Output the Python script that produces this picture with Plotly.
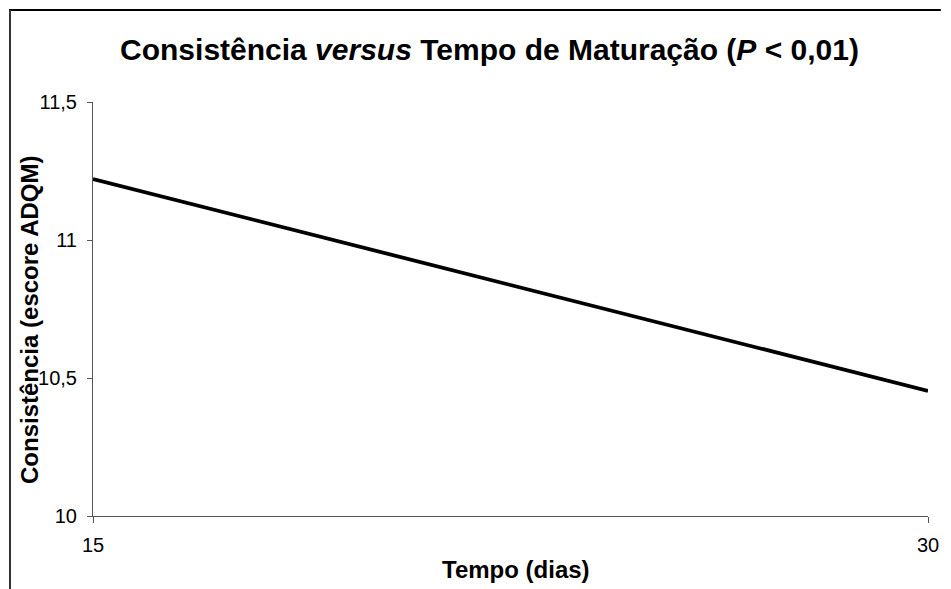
import plotly.graph_objects as go

# Data
tempo_dias = [15, 30]
consistencia = [11.221, 10.453]
y_ticks = [10, 10.5, 11, 11.5]
x_ticks = [15, 30]

FONT = "Liberation Sans, Arial, sans-serif"
AXIS_COLOR = "#555555"

# page has an 8px body margin, so the figure is a bit smaller than the window
W, H = 943, 581
ML, MR, MT, MB = 85, 13, 94, 73
PW, PH = W - ML - MR, H - MT - MB

fig = go.Figure()

fig.add_trace(go.Scatter(
    x=tempo_dias,
    y=consistencia,
    mode='lines',
    line=dict(color='black', width=3.8),
    showlegend=False,
    hoverinfo='skip'
))

fig.update_layout(
    width=W,
    height=H,
    paper_bgcolor='white',
    plot_bgcolor='white',
    separators=', ',
    margin=dict(l=ML, r=MR, t=MT, b=MB),
    font=dict(family=FONT, color='black', size=20),
    title=dict(
        text='<b>Consistência <i>versus</i> Tempo de Maturação (<i>P</i> < 0,01)</b>',
        x=0.5 + 10 / W, xanchor='center',
        y=1 - 41 / H, yanchor='middle',
        font=dict(family=FONT, size=30, color='black')
    ),
    xaxis=dict(
        range=[15, 30],
        tickvals=x_ticks,
        ticks='outside', ticklen=6, tickcolor=AXIS_COLOR,
        showline=True, linecolor=AXIS_COLOR, linewidth=1,
        showgrid=False, zeroline=False,
        tickfont=dict(size=20),
        ticklabelstandoff=5,
    ),
    yaxis=dict(
        range=[10, 11.5],
        tickvals=y_ticks,
        ticks='outside', ticklen=5, tickcolor=AXIS_COLOR,
        showline=True, linecolor=AXIS_COLOR, linewidth=1,
        showgrid=False, zeroline=False,
        tickfont=dict(size=20),
        ticklabelstandoff=6,
    ),
    annotations=[
        dict(text='<b>Tempo (dias)</b>', xref='paper', yref='paper',
             x=0.5, y=0, yshift=-53, xshift=5, xanchor='center', yanchor='middle',
             showarrow=False, font=dict(size=24)),
        dict(text='<b>Consistência (escore ADQM)</b>', xref='paper', yref='paper',
             x=0, y=0.5, xshift=-64, yshift=-11, xanchor='center', yanchor='middle',
             textangle=-90, showarrow=False, font=dict(size=24)),
    ],
    shapes=[
        dict(type='line', xref='paper', yref='paper',
             x0=-ML / PW, x1=(W - ML) / PW,
             y0=1 + (MT - 2) / PH, y1=1 + (MT - 2) / PH,
             line=dict(color='black', width=2)),
        dict(type='line', xref='paper', yref='paper',
             x0=-(ML - 1) / PW, x1=-(ML - 1) / PW,
             y0=1 + (MT - 2) / PH, y1=-MB / PH,
             line=dict(color='#333333', width=2)),
    ],
)

fig.write_html("out.html")
